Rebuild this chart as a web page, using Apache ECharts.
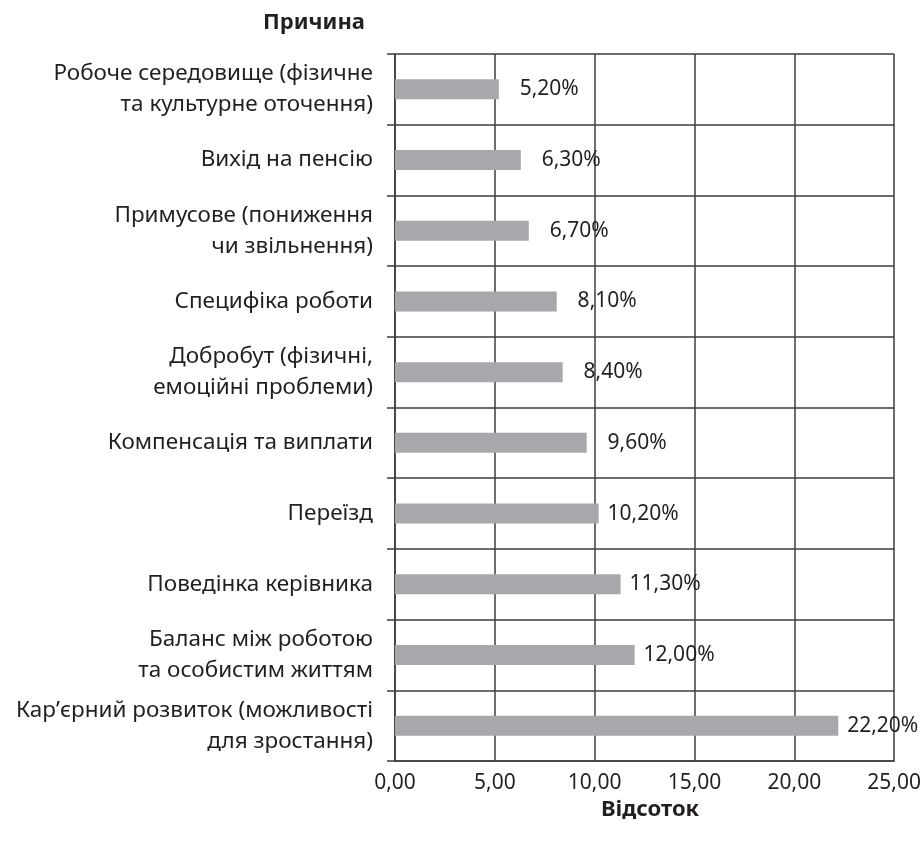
<!DOCTYPE html>
<html>
<head>
<meta charset="utf-8">
<script src="https://cdn.jsdelivr.net/npm/echarts@6/dist/echarts.min.js"></script>
<style>
  html, body { margin: 0; padding: 0; background: #fff; }
  #chart { width: 924px; height: 843px; }
</style>
</head>
<body>
<div id="chart"></div>
<script>
// Reasons for leaving, top to bottom
const categories = [
  'Робоче середовище (фізичне\nта культурне оточення)',
  'Вихід на пенсію',
  'Примусове (пониження\nчи звільнення)',
  'Специфіка роботи',
  'Добробут (фізичні,\nемоційні проблеми)',
  'Компенсація та виплати',
  'Переїзд',
  'Поведінка керівника',
  'Баланс між роботою\nта особистим життям',
  'Кар’єрний розвиток (можливості\nдля зростання)'
];
const values = [5.2, 6.3, 6.7, 8.1, 8.4, 9.6, 10.2, 11.3, 12.0, 22.2];
const xTicks = [0, 5, 10, 15, 20, 25];

const FONT = '"Noto Sans", sans-serif';
const TEXT = '#231f20';
const LINE = '#3c3c3c';
const fmt2 = v => v.toFixed(2).replace('.', ',');

const chart = echarts.init(document.getElementById('chart'));
chart.setOption({
  animation: false,
  textStyle: { fontFamily: FONT },
  grid: { left: 395, right: 29, top: 54, bottom: 82, containLabel: false },
  title: [
    { text: 'Причина', left: 309, top: 7, textAlign: 'center',
      textStyle: { fontFamily: FONT, fontSize: 22, fontWeight: 'bold', color: TEXT } },
    { text: 'Відсоток', left: 645, top: 794, textAlign: 'center',
      textStyle: { fontFamily: FONT, fontSize: 22, fontWeight: 'bold', color: TEXT } }
  ],
  xAxis: {
    type: 'value',
    min: xTicks[0],
    max: xTicks[xTicks.length - 1],
    interval: 5,
    axisLine: { show: true, lineStyle: { color: LINE, width: 1.5 } },
    axisTick: { show: false },
    splitLine: { show: true, lineStyle: { color: LINE, width: 1.5 } },
    axisLabel: { margin: 12, fontSize: 21, color: TEXT, fontFamily: FONT, formatter: v => fmt2(v) }
  },
  yAxis: {
    type: 'category',
    inverse: true,
    data: categories,
    boundaryGap: true,
    axisLine: { show: true, lineStyle: { color: LINE, width: 1.5 } },
    axisTick: { show: true, length: 8, interval: 0, lineStyle: { color: LINE, width: 1.5 } },
    splitLine: { show: true, interval: 0, lineStyle: { color: LINE, width: 1.5 } },
    axisLabel: { margin: 22, fontSize: 22.5, lineHeight: 31, color: TEXT, fontFamily: FONT, align: 'right', interval: 0 }
  },
  series: [{
    type: 'bar',
    data: values,
    barWidth: 20,
    itemStyle: { color: '#a7a8ab' },
    label: {
      show: true,
      position: 'right',
      distance: 80,
      align: 'right',
      fontSize: 21,
      color: TEXT,
      fontFamily: FONT,
      formatter: p => fmt2(p.value) + '%'
    }
  }]
});
</script>
</body>
</html>
